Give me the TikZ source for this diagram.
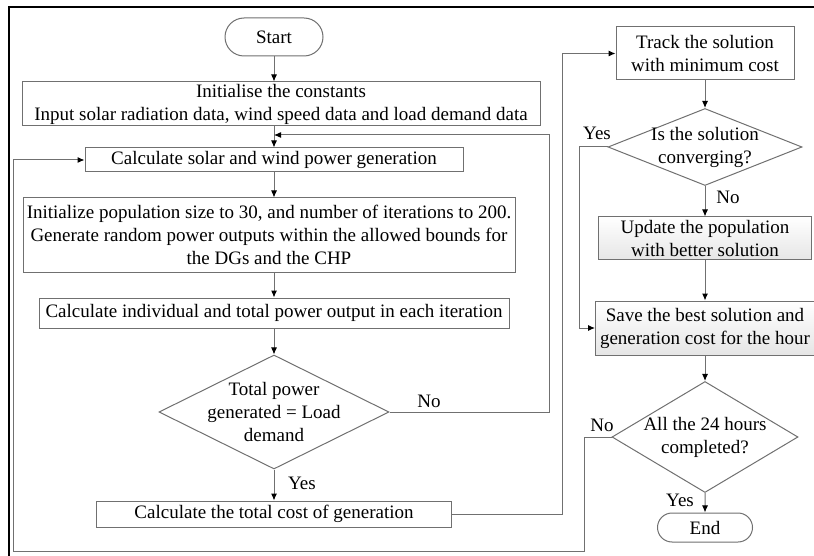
\documentclass[tikz,border=0pt]{standalone}
\usepackage{fontspec}
\setmainfont{Liberation Serif}
\usetikzlibrary{shapes.geometric,shapes.misc,arrows.meta}

\definecolor{flowline}{RGB}{112,112,112}

\tikzset{
  flow/.style={draw=flowline, line width=1pt},
  procbox/.style={flow, rectangle, fill=white, align=center, inner sep=0pt},
  shadedbox/.style={procbox, top color=white, bottom color=black!10},
  decision/.style={flow, diamond, fill=white, inner sep=0pt},
  terminal/.style={flow, rounded rectangle, fill=white, inner sep=0pt},
  arrow/.style={flow, -{Latex[length=7pt,width=6pt,color=black]}},
}

\begin{document}
\begin{tikzpicture}[x=1pt,y=-1pt,font=\fontsize{19}{23}\selectfont]
\useasboundingbox (0,0) rectangle (814,556);

% outer frame
\draw[line width=2.5pt] (9,556) -- (9,7) -- (814,7);

% main loop, left column
\node[terminal, minimum width=98pt, minimum height=38pt] (start) at (274,37) {Start};
\node[procbox, minimum width=518pt, minimum height=44pt] (init) at (281,104)
  {Initialise the constants\\Input solar radiation data, wind speed data and load demand data};
\node[procbox, minimum width=378pt, minimum height=24pt] (solar) at (274,160)
  {Calculate solar and wind power generation};
\node[procbox, minimum width=492pt, minimum height=74pt] (pop) at (269,235)
  {Initialize population size to 30, and number of iterations to 200.\\
   Generate random power outputs within the allowed bounds for\\the DGs and the CHP};
\node[procbox, minimum width=470pt, minimum height=30pt] (output) at (274,313)
  {Calculate individual and total power output in each iteration};
\node[decision, minimum width=230pt, minimum height=114pt] (balance) at (274,412) {};
\node[align=center] (balancetext) at (balance) {Total power\\generated = Load\\demand};
\node[procbox, minimum width=355pt, minimum height=26pt] (cost) at (274,514)
  {Calculate the total cost of generation};

% right column
\node[procbox, minimum width=178pt, minimum height=53pt] (track) at (705,53.5)
  {Track the solution\\with minimum cost};
\node[decision, minimum width=194pt, minimum height=77pt] (conv) at (705,147) {};
\node[align=center] (convtext) at (conv) {Is the solution\\converging?};
\node[shadedbox, minimum width=213pt, minimum height=43pt] (update) at (705,238.5)
  {Update the population\\with better solution};
\node[shadedbox, minimum width=219pt, minimum height=54pt] (save) at (705,328)
  {Save the best solution and\\generation cost for the hour};
\node[decision, minimum width=186pt, minimum height=111pt] (hours) at (705,437) {};
\node[align=center] (hourstext) at (hours) {All the 24 hours\\completed?};
\node[terminal, minimum width=95pt, minimum height=29pt] (finish) at (705,527.5) {End};

% branch labels
\node (nobalance) at (429,401) {No};
\node (yesbalance) at (302,483) {Yes};
\node (yesconv) at (597,133) {Yes};
\node (noconv) at (728,197) {No};
\node (nohours) at (602,425) {No};
\node (yeshours) at (680,500) {Yes};

% connectors
\coordinate (merge) at (274,135);
\coordinate (corner) at (13,551);
\draw[arrow] (start.south) -- (start.south |- init.north);
\draw[arrow] (solar.north |- init.south) -- (solar);
\draw[arrow] (balance.east) -- ++(160,0) |- (merge);
\draw[arrow] (solar) -- (solar.south |- pop.north);
\draw[arrow] (output.north |- pop.south) -- (output);
\draw[arrow] (output) -- (balance);
\draw[arrow] (balance) -- (balance.south |- cost.north);
\draw[arrow] (cost.east) -- ++(110,0) |- (track.west);
\draw[arrow] (track) -- (conv);
\draw[arrow] (conv) -- (update);
\draw[arrow] (conv.west) -- ++(-28,0) |- (save.west);
\draw[arrow] (update) -- (save);
\draw[arrow] (save) -- (hours);
\draw[arrow] (hours) -- (finish);
\draw[arrow] (hours.west) -- ++(-27,0) |- (corner) |- (solar.west);

\end{tikzpicture}
\end{document}
